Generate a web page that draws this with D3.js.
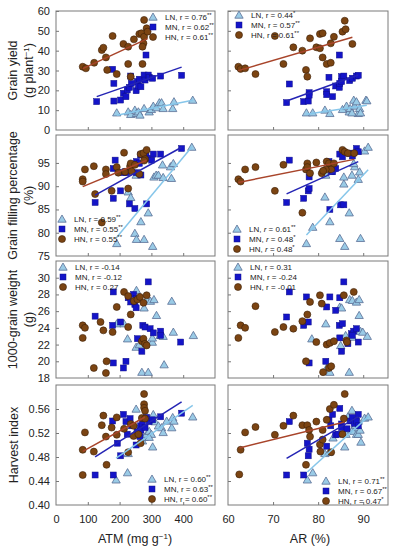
<!DOCTYPE html>
<html><head><meta charset="utf-8">
<script src="https://cdn.jsdelivr.net/npm/d3@7"></script>
<style>body{margin:0;background:#fff}svg{display:block}</style>
</head><body>
<script>
// ---------- DATA ----------
// Row 1: Grain yield vs ATM / AR
const gyAtmLN=[[191,8.7],[227,9.2],[235,7.9],[248,10.1],[253,8.4],[259,9.2],[264,7.6],[277,10.9],[293,9.2],[300,10.4],[306,12.1],[316,11.3],[325,13.8],[332,13.8],[337,10.9],[367,10.9],[371,14.3],[430,15.1]];
const gyAtmMN=[[128,14.3],[178,30.6],[182,23.5],[182,14.6],[203,15.1],[212,18.5],[220,16.8],[224,20.2],[231,21.5],[235,27.2],[237,23.5],[252,19.8],[256,24.4],[259,22.2],[262,25.6],[267,21.8],[277,27.7],[280,25.2],[283,37.8],[290,27.7],[293,26.6],[304,26.1],[329,27.2],[395,27.6]];
const gyAtmHN=[[84,31.9],[94,31.1],[120,33.9],[144,40.3],[149,41.5],[157,36.6],[161,30.3],[178,47.4],[191,28.2],[212,43.4],[227,42],[227,33.3],[235,26.9],[245,45.7],[262,48.4],[269,48.8],[272,33.3],[275,43.7],[277,55.5],[277,47],[285,51.3],[288,49.6],[272,42]];
const gyArLN=[[77.4,8.7],[78.8,8.7],[81.5,10.1],[82.6,8.4],[85.4,10.4],[86.3,12.1],[86.9,9.2],[87.1,10.9],[87.9,15.1],[88.1,12.1],[88.5,14.3],[88.9,8.4],[89.2,10.9],[90.6,15.1],[90.8,14.8],[89.4,8.7],[87.5,8.7]];
const gyArMN=[[73,13.8],[73.6,23.2],[76.8,14.3],[77.8,14.6],[78,18.8],[78,17.6],[81.9,19.3],[81.9,17.8],[82.4,26.6],[83.2,16.8],[83.9,22.2],[84.7,37.8],[84.7,21.5],[84.8,23.5],[85.2,26.9],[85.7,27.2],[85.2,24.4],[87,24.9],[87.6,26.1],[88.5,27.2],[88.9,27.6]];
const gyArHN=[[62.3,31.9],[62.8,30.8],[63.8,31.1],[66.1,28.2],[70.4,47.4],[72.3,33.3],[74.5,41.7],[76.5,40],[77.3,30.3],[77.6,26.9],[78.2,46.2],[79.6,41.7],[80.4,41.2],[80.4,48.4],[81,48.8],[81,36.6],[81.9,33.3],[82.8,33.9],[82.8,43.7],[83.5,47],[85.4,49.6],[86.1,50.8],[85.9,55.1],[87.6,43.4]];
// Row 2: Grain filling percentage
const gfAtmLN=[[191,77.7],[227,88.8],[235,87.6],[248,79.9],[253,78.6],[267,82.4],[277,78.6],[290,84.3],[304,77.1],[308,92],[315,92.4],[322,92.4],[337,91.9],[360,94.2],[363,91.7],[369,94.9],[335,94.6],[252,92.4],[427,98.4]];
const gfAtmMN=[[123,86.5],[180,93.8],[180,87.4],[186,95.6],[203,89],[212,92.9],[217,93.1],[222,92.9],[231,86.2],[238,94.6],[248,85.2],[253,92.9],[253,95.3],[262,94.9],[266,96.7],[267,92.4],[283,96.5],[285,86.2],[287,96],[301,95.6],[306,96.9],[329,96.9],[395,98.1]];
const gfAtmHN=[[84,91.5],[84,91],[91,93.6],[119,94.3],[123,88.3],[144,82.2],[157,93.6],[157,92.6],[175,89],[191,94.1],[196,92.9],[214,97.2],[217,93.1],[227,89.5],[233,94.3],[235,94.9],[248,94.6],[262,92.6],[266,96.9],[275,97.1],[280,95.8],[285,97.8],[277,95.5],[238,93.2]];
const gfArLN=[[77.4,77.7],[78.8,81.2],[81.5,87.7],[82.6,82.4],[84.8,78.8],[85.7,90.5],[85.9,77.1],[85.7,92],[86.9,84.3],[87.5,92.4],[88.1,94.2],[88.9,91.5],[89.2,93.1],[89.4,78.8],[90.3,97.6],[91.1,98.4],[81.7,92.4],[87.9,94.9]];
const gfArMN=[[73,86.5],[73.6,95.6],[76.8,87.4],[77.8,89],[78,89.5],[78,92],[82.6,85],[82.9,93.1],[83.2,94.3],[84.8,96.9],[85,86],[85.7,86],[85.4,96.3],[87,97.1],[87.6,96.5],[88.5,98.1],[88.9,97.4],[83.2,93.1],[83.9,93.8],[82.4,95.3]];
const gfArHN=[[62.3,91.5],[62.8,91],[63.8,93.6],[66.1,94.1],[70.4,89],[72.3,94.6],[76.5,84.3],[77.3,93.6],[77.6,94.9],[78.2,92.8],[79.6,95.1],[80.8,92.8],[81.9,95.3],[82.4,94.9],[82.9,93.6],[83.5,94.9],[85.4,97.8],[85.9,97.4],[86.6,97.1],[88,97.1],[81.7,93.6],[81.1,93.3],[77.6,94.1]];
// Row 3: 1000-grain weight
const gwAtmLN=[[191,24.5],[214,24.5],[225,22.7],[252,21.7],[253,28.5],[262,22],[270,18.7],[277,26.4],[285,27.4],[290,18.7],[297,27.2],[303,22.3],[308,27.4],[316,25.5],[327,23.1],[337,23],[340,19.6],[364,27.2],[369,23.5],[432,23.1],[303,22.8]];
const gwAtmMN=[[123,25.4],[178,24.3],[180,28.3],[180,19.8],[203,24.7],[212,19.2],[220,20],[227,27.6],[235,27.1],[244,28],[248,26.8],[252,26.4],[252,27.5],[256,22.7],[270,21.2],[273,24.3],[280,24.1],[290,29.5],[296,23.9],[306,23.4],[329,23.6],[329,23.1],[392,22.3]];
const gwAtmHN=[[84,24.3],[91,24],[84,22.8],[119,19.2],[140,24.7],[149,23.7],[157,18.6],[159,20],[178,23.5],[191,26.5],[214,28.3],[227,24.1],[227,27.8],[235,25.6],[245,27.2],[256,27.4],[264,27.7],[270,22.4],[275,22.7],[280,22.1],[285,27.9],[285,21.9],[275,27]];
const gwArLN=[[78.6,22.7],[81.7,24.5],[81.9,19.2],[82.6,18.7],[84.8,26.5],[85.2,26.4],[85,21.9],[86.9,18.7],[87,27.4],[87.6,27.3],[88.5,27.1],[89.1,27.4],[89.1,25.5],[89.4,23.6],[89.9,23.5],[90.9,23],[87.6,22.9],[86.1,23.1]];
const gwArMN=[[73.6,28.3],[73,25.3],[76.8,24.3],[77.8,24.7],[77.4,27.7],[78,19.8],[81.9,26.5],[81.7,20],[82.6,27.7],[83.9,26.1],[84.7,24.3],[84.8,27.6],[84.8,22.8],[85.2,21.2],[85.4,24.5],[85.7,29.5],[86.6,22.1],[87.4,23.3],[87.9,23.6],[88.5,23.9],[88.9,22.3],[87.6,23.1]];
const gwArHN=[[62.3,22.8],[62.8,24.3],[63.8,24],[66.1,26.6],[70.4,23.5],[72.3,24.1],[74.5,23.9],[76.5,24.8],[77.3,20],[77.6,25.6],[78.2,27.1],[79.6,22.3],[80.4,27.9],[80.8,26.9],[81.9,22],[82.4,19.2],[82.6,22.2],[82.9,19.4],[83.5,22.4],[81.1,18.7],[85.7,27.9],[86.3,22.5],[86.4,22.3],[87.9,28.3]];
// Row 4: Harvest index
const hiAtmLN=[[189,0.442],[225,0.454],[227,0.486],[252,0.560],[256,0.527],[272,0.507],[277,0.513],[285,0.518],[293,0.523],[300,0.518],[304,0.497],[306,0.551],[311,0.539],[322,0.532],[332,0.529],[337,0.521],[348,0.540],[364,0.529],[367,0.546],[371,0.540],[430,0.547],[293,0.513]];
const hiAtmMN=[[123,0.450],[178,0.540],[180,0.450],[193,0.503],[203,0.482],[212,0.551],[220,0.539],[224,0.518],[233,0.544],[238,0.532],[252,0.500],[256,0.522],[259,0.518],[264,0.514],[266,0.532],[267,0.525],[272,0.535],[277,0.544],[280,0.529],[285,0.546],[293,0.539],[304,0.542],[329,0.547],[395,0.553]];
const hiAtmHN=[[84,0.450],[84,0.492],[91,0.521],[119,0.489],[144,0.533],[149,0.549],[157,0.514],[159,0.467],[175,0.529],[191,0.546],[191,0.517],[214,0.527],[227,0.488],[235,0.535],[244,0.532],[244,0.515],[266,0.503],[270,0.545],[277,0.585],[277,0.568],[277,0.562],[280,0.557],[280,0.544],[259,0.518]];
const hiArLN=[[77.6,0.442],[78.8,0.454],[81.5,0.486],[82.4,0.488],[83.3,0.512],[85.9,0.497],[86.2,0.518],[86.6,0.547],[87.5,0.558],[87.6,0.525],[88,0.523],[88.5,0.518],[88.9,0.529],[88.9,0.518],[89.3,0.525],[89.5,0.505],[90.3,0.545],[91.1,0.547],[88.9,0.540],[88.3,0.533]];
const hiArMN=[[73,0.450],[73.6,0.539],[76.8,0.450],[77.6,0.503],[78,0.493],[77.8,0.482],[81.9,0.498],[82.4,0.542],[82.8,0.532],[83.2,0.551],[83.9,0.517],[84.4,0.518],[84.8,0.561],[85.2,0.535],[85.2,0.529],[86.4,0.527],[87.1,0.540],[87.6,0.546],[88,0.536],[88.5,0.540],[88.9,0.551],[88.9,0.532]];
const hiArHN=[[62.5,0.451],[62.8,0.492],[63.8,0.521],[66.1,0.530],[70.4,0.517],[72.3,0.532],[74.5,0.549],[76.5,0.533],[77.3,0.467],[77.6,0.533],[78,0.525],[78.2,0.514],[79.6,0.539],[80.4,0.501],[80.5,0.489],[81,0.525],[81.9,0.542],[82.6,0.560],[82.9,0.488],[83.5,0.567],[85.4,0.518],[85.7,0.544],[85.9,0.585],[81,0.509]];

// Legends: r values and significance marks
const rGyAtm=[["LN","0.76","**"],["MN","0.62","**"],["HN","0.61","**"]];
const rGyAr =[["LN","0.44","*"],["MN","0.57","**"],["HN","0.61","**"]];
const rGfAtm=[["LN","0.59","**"],["MN","0.55","**"],["HN","0.55","**"]];
const rGfAr =[["LN","0.61","**"],["MN","0.48","*"],["HN","0.48","*"]];
const rGwAtm=[["LN","-0.14",""],["MN","-0.12",""],["HN","0.27",""]];
const rGwAr =[["LN","0.31",""],["MN","-0.24",""],["HN","-0.01",""]];
const rHiAtm=[["LN","0.60","**"],["MN","0.63","**"],["HN","0.60","**"]];
const rHiAr =[["LN","0.71","**"],["MN","0.67","**"],["HN","0.47","*"]];

// Axis domains / ticks
const atmDomain=[0,500], atmTicks=[0,100,200,300,400];
const arDomain=[60,95.5], arTicks=[60,70,80,90];
const gyDomain=[0,60], gyTicks=[0,10,20,30,40,50,60];
const gfDomain=[75,101], gfTicks=[75,80,85,90,95];
const gwDomain=[18,32], gwTicks=[18,20,22,24,26,28,30];
const hiDomain=[0.40,0.60], hiTicks=[0.40,0.44,0.48,0.52,0.56];

// ---------- LAYOUT ----------
const W=394,H=550;
const svg=d3.select("body").append("svg").attr("width",W).attr("height",H)
  .style("font-family","'Liberation Sans', Arial, sans-serif");

const cols=[{x0:56,x1:215,domain:atmDomain,ticks:atmTicks},{x0:228,x1:388,domain:arDomain,ticks:arTicks}];
const rows=[
 {y0:11,y1:130,domain:gyDomain,ticks:gyTicks,fmt:d3.format("d"),title:["Grain yield",["(g plant",["−1"],")"]],line:true},
 {y0:135,y1:256,domain:gfDomain,ticks:gfTicks,fmt:d3.format("d"),title:["Grain filling percentage","(%)"],line:true},
 {y0:261,y1:378,domain:gwDomain,ticks:gwTicks,fmt:d3.format("d"),title:["1000-grain weight","(g)"],line:false},
 {y0:385,y1:505,domain:hiDomain,ticks:hiTicks,fmt:d3.format(".2f"),title:["Harvest index"],line:true}
];
const panelData=[
 [[gyAtmLN,gyAtmMN,gyAtmHN],[gyArLN,gyArMN,gyArHN]],
 [[gfAtmLN,gfAtmMN,gfAtmHN],[gfArLN,gfArMN,gfArHN]],
 [[gwAtmLN,gwAtmMN,gwAtmHN],[gwArLN,gwArMN,gwArHN]],
 [[hiAtmLN,hiAtmMN,hiAtmHN],[hiArLN,hiArMN,hiArHN]]
];
const panelR=[[rGyAtm,rGyAr],[rGfAtm,rGfAr],[rGwAtm,rGwAr],[rHiAtm,rHiAr]];
// legend anchor (marker x, first row y)
const legPos=[[[153,17],[239,15]],[[62,219],[237,229]],[[63,267],[238,267]],[[152,479],[326,481]]];

const series=[
 {name:"LN",fill:"#9acbe6",stroke:"#5a6f96",line:"#86c6ea",shape:"tri"},
 {name:"MN",fill:"#1414c8",stroke:"#10108a",line:"#2424b4",shape:"sq"},
 {name:"HN",fill:"#7b4412",stroke:"#3c2008",line:"#a8442a",shape:"circ"}
];
function marker(g,s,x,y){
  if(s.shape==="tri"){
    g.append("path").attr("d",d3.symbol(d3.symbolTriangle,30)()).attr("transform",`translate(${x},${y+0.8})`)
     .attr("fill",s.fill).attr("stroke",s.stroke).attr("stroke-width",0.8);
  }else if(s.shape==="sq"){
    g.append("rect").attr("x",x-3).attr("y",y-3).attr("width",6).attr("height",6)
     .attr("fill",s.fill).attr("stroke",s.stroke).attr("stroke-width",0.5);
  }else{
    g.append("circle").attr("cx",x).attr("cy",y).attr("r",3.5)
     .attr("fill",s.fill).attr("stroke",s.stroke).attr("stroke-width",0.6);
  }
}
function ols(pts){
  const mx=d3.mean(pts,d=>d[0]),my=d3.mean(pts,d=>d[1]);
  let sxy=0,sxx=0;pts.forEach(d=>{sxy+=(d[0]-mx)*(d[1]-my);sxx+=(d[0]-mx)**2;});
  const b=sxy/sxx,a=my-b*mx;return x=>a+b*x;
}

rows.forEach((row,ri)=>{
  const y=d3.scaleLinear().domain(row.domain).range([row.y1,row.y0]);
  cols.forEach((col,ci)=>{
    const x=d3.scaleLinear().domain(col.domain).range([col.x0,col.x1]);
    const g=svg.append("g");
    const xa=d3.axisTop(x).tickValues(col.ticks.filter(t=>t>col.domain[0])).tickSize(3).tickFormat("");
    g.append("g").attr("transform",`translate(0,${row.y1})`).call(xa)
      .call(a=>{a.select(".domain").remove();a.selectAll("line").attr("stroke","#777");});
    const ya=d3.axisRight(y).tickValues(row.ticks.filter(t=>t>row.domain[0])).tickSize(3).tickFormat("");
    g.append("g").attr("transform",`translate(${col.x0},0)`).call(ya)
      .call(a=>{a.select(".domain").remove();a.selectAll("line").attr("stroke","#777");});
    if(ci===0){
      const yl=d3.axisLeft(y).tickValues(row.ticks).tickSize(0).tickPadding(6).tickFormat(row.fmt);
      g.append("g").attr("transform",`translate(${col.x0},0)`).call(yl)
        .call(a=>{a.select(".domain").remove();a.selectAll("text").attr("font-size",11).attr("fill","#222").attr("font-family","'Liberation Sans', Arial, sans-serif");});
    }
    if(ri===3){
      const xl=d3.axisBottom(x).tickValues(col.ticks).tickSize(0).tickPadding(10).tickFormat(d3.format("d"));
      g.append("g").attr("transform",`translate(0,${row.y1})`).call(xl)
        .call(a=>{a.select(".domain").remove();a.selectAll("text").attr("font-size",11).attr("fill","#222").attr("font-family","'Liberation Sans', Arial, sans-serif");});
    }
    const data=panelData[ri][ci];
    data.forEach((pts,si)=>{
      pts.forEach(p=>marker(g,series[si],x(p[0]),y(p[1])));
    });
    if(row.line){
      data.forEach((pts,si)=>{
        const f=ols(pts);const ex=d3.extent(pts,d=>d[0]);
        g.append("line").attr("x1",x(ex[0])).attr("y1",y(f(ex[0]))).attr("x2",x(ex[1])).attr("y2",y(f(ex[1])))
          .attr("stroke",series[si].line).attr("stroke-width",1.5);
      });
    }
    g.append("rect").attr("x",col.x0).attr("y",row.y0).attr("width",col.x1-col.x0).attr("height",row.y1-row.y0)
      .attr("fill","none").attr("stroke","#7a7a7a").attr("stroke-width",1);
    const [lx,ly]=legPos[ri][ci];
    panelR[ri][ci].forEach((r,k)=>{
      const yy=ly+k*10;
      marker(g,series[k],lx,yy);
      const t=g.append("text").attr("x",lx+12).attr("y",yy+3).attr("font-size",8).attr("fill","#222");
      t.append("tspan").text(`${r[0]}, `);
      t.append("tspan").attr("font-style",ci===1&&ri===1?"italic":"normal").text("r");
      t.append("tspan").text(` = ${r[1]}`);
      if(r[2]) t.append("tspan").attr("dy",-3).attr("font-size",6).text(r[2]);
    });
  });
  const cy=(row.y0+row.y1)/2;
  const lines=row.title;
  const xs=lines.length===1?[14]:[13,29];
  lines.forEach((ln,k)=>{
    const t=svg.append("text").attr("transform",`translate(${xs[k]+4},${cy}) rotate(-90)`)
      .attr("text-anchor","middle").attr("font-size",12.5).attr("fill","#222");
    if(typeof ln==="string") t.text(ln);
    else{ t.append("tspan").text(ln[0]); t.append("tspan").attr("dy",-4).attr("font-size",8).text(ln[1][0]); t.append("tspan").attr("dy",4).text(ln[2]); }
  });
});
const xt1=svg.append("text").attr("x",135).attr("y",543).attr("text-anchor","middle").attr("font-size",12.5).attr("fill","#222");
xt1.append("tspan").text("ATM (mg g");xt1.append("tspan").attr("dy",-4).attr("font-size",8).text("−1");xt1.append("tspan").attr("dy",4).text(")");
svg.append("text").attr("x",310).attr("y",543).attr("text-anchor","middle").attr("font-size",12.5).attr("fill","#222").text("AR (%)");
</script>
</body></html>
